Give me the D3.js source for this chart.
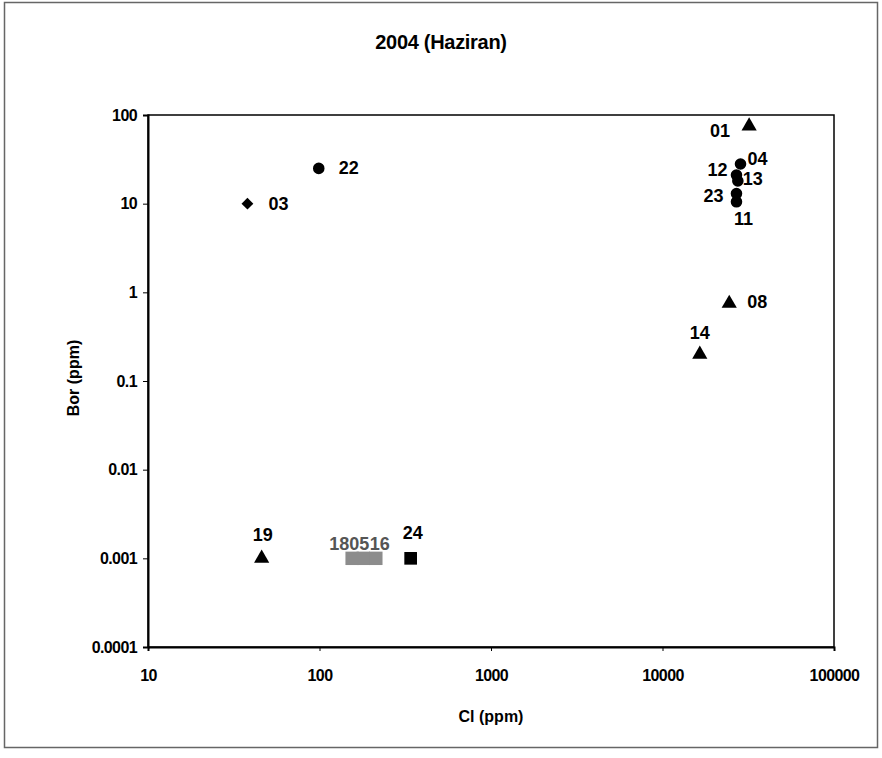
<!DOCTYPE html>
<html>
<head>
<meta charset="utf-8">
<script src="https://cdn.jsdelivr.net/npm/d3@7"></script>
<style>
  body { margin: 0; background: #fff; }
  text { font-family: "Liberation Sans", Arial, sans-serif; font-weight: bold; }
</style>
</head>
<body>
<svg></svg>
<script>
// Sample data
const ids    = ["01", "04", "12", "13", "23", "11", "08", "14", "03", "22", "19", "18", "05", "16", "24"];
const clVals = [32000, 28500, 27000, 27500, 27000, 27000, 24500, 16500, 38, 99, 46, 155, 180, 213, 340];
const borVals = [75, 28, 21, 18, 13, 10.5, 0.75, 0.2, 10, 25, 0.001, 0.001, 0.001, 0.001, 0.001];
const kinds  = ["triangle", "circle", "circle", "circle", "circle", "circle", "triangle", "triangle",
                "diamond", "circle", "triangle", "graySquare", "graySquare", "graySquare", "square"];

const xTicks = [10, 100, 1000, 10000, 100000];
const xTickLabels = ["10", "100", "1000", "10000", "100000"];
const yTicks = [0.0001, 0.001, 0.01, 0.1, 1, 10, 100];
const yTickLabels = ["0.0001", "0.001", "0.01", "0.1", "1", "10", "100"];

// label offsets from the marker (layout only)
const labelOffset = {
  "01": [-29, 5], "04": [17, -5], "12": [-19, -5], "13": [15, -2], "23": [-23, 2], "11": [7, 17],
  "08": [28, -1], "14": [0, -21], "03": [31, 0], "22": [30, 0], "19": [1, -23], "24": [2, -25],
  "18": [-13, -14], "05": [-4, -14], "16": [4, -14]
};

const width = 882, height = 758;
const plotLeft = 148, plotRight = 834, plotTop = 115, plotBottom = 647;

const svg = d3.select("svg")
    .attr("width", width)
    .attr("height", height);

// outer frame
svg.append("rect")
    .attr("x", 4.5).attr("y", 2.5)
    .attr("width", 873).attr("height", 745)
    .attr("fill", "none")
    .attr("stroke", "#666")
    .attr("stroke-width", 1.5);

const x = d3.scaleLog().domain([10, 100000]).range([plotLeft, plotRight]);
const y = d3.scaleLog().domain([0.0001, 100]).range([plotBottom, plotTop]);

// plot border
svg.append("rect")
    .attr("x", plotLeft).attr("y", plotTop)
    .attr("width", plotRight - plotLeft).attr("height", plotBottom - plotTop)
    .attr("fill", "none")
    .attr("stroke", "#000")
    .attr("stroke-width", 1.5);

// axes
const xAxis = svg.append("g")
    .attr("transform", `translate(0, ${plotBottom})`)
    .call(d3.axisBottom(x).tickValues(xTicks).tickSize(4).tickPadding(19)
        .tickFormat((d, i) => xTickLabels[i]));
const yAxis = svg.append("g")
    .attr("transform", `translate(${plotLeft}, 0)`)
    .call(d3.axisLeft(y).tickValues(yTicks).tickSize(5).tickPadding(6)
        .tickFormat((d, i) => yTickLabels[i]));

[xAxis, yAxis].forEach(g => {
  g.select(".domain").attr("stroke", "#000").attr("stroke-width", 2);
  g.selectAll("text").attr("font-size", 16).attr("fill", "#000")
      .style("font-family", "'Liberation Sans', Arial, sans-serif")
      .style("font-weight", "bold")
      .style("letter-spacing", "-0.6px");
});

// titles
svg.append("text")
    .attr("x", 441).attr("y", 49)
    .attr("text-anchor", "middle")
    .attr("font-size", 20)
    .style("letter-spacing", "-0.3px")
    .text("2004 (Haziran)");

svg.append("text")
    .attr("x", 491).attr("y", 722)
    .attr("text-anchor", "middle")
    .attr("font-size", 16)
    .text("Cl (ppm)");

svg.append("text")
    .attr("transform", "translate(79, 378) rotate(-90)")
    .attr("text-anchor", "middle")
    .attr("font-size", 16)
    .text("Bor (ppm)");

// points
const data = ids.map((id, i) => ({ id, cl: clVals[i], bor: borVals[i], kind: kinds[i] }));

const symbolFor = {
  triangle: d3.symbol().type(d3.symbolTriangle).size(100),
  circle: d3.symbol().type(d3.symbolCircle).size(105),
  diamond: d3.symbol().type(d3.symbolSquare).size(70),
  square: d3.symbol().type(d3.symbolSquare).size(160),
  graySquare: d3.symbol().type(d3.symbolSquare).size(180)
};

svg.selectAll("path.pt")
    .data(data)
    .enter()
    .append("path")
    .attr("class", "pt")
    .attr("transform", d => `translate(${x(d.cl)}, ${y(d.bor)})` + (d.kind === "diamond" ? " rotate(45)" : ""))
    .attr("d", d => symbolFor[d.kind]())
    .attr("fill", d => d.kind === "graySquare" ? "#8c8c8c" : "#000");

svg.selectAll("text.lbl")
    .data(data)
    .enter()
    .append("text")
    .attr("class", "lbl")
    .attr("x", d => x(d.cl) + labelOffset[d.id][0])
    .attr("y", d => y(d.bor) + labelOffset[d.id][1])
    .attr("text-anchor", "middle")
    .attr("dominant-baseline", "central")
    .attr("font-size", 18)
    .attr("fill", d => d.kind === "graySquare" ? "#555" : "#000")
    .text(d => d.id);
</script>
</body>
</html>
